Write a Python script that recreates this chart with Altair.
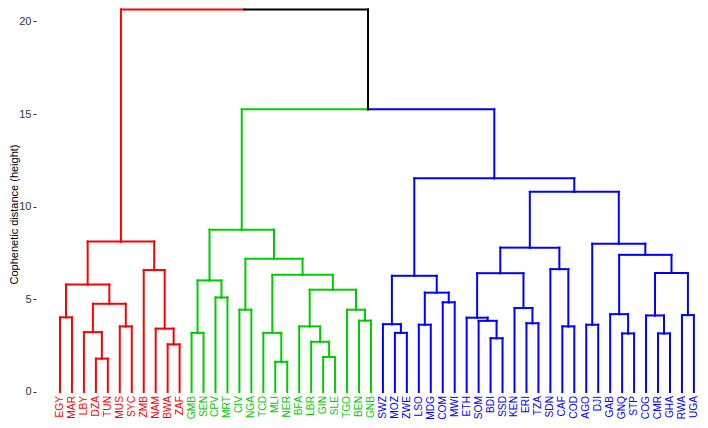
import altair as alt
import pandas as pd

# Leaves in dendrogram order
leaves = ["EGY", "MAR", "LBY", "DZA", "TUN", "MUS", "SYC", "ZMB", "NAM", "BWA", "ZAF",
          "GMB", "SEN", "CPV", "MRT", "CIV", "NGA", "TCD", "MLI", "NER", "BFA", "LBR",
          "GIN", "SLE", "TGO", "BEN", "GNB",
          "SWZ", "MOZ", "ZWE", "LSO", "MDG", "COM", "MWI", "ETH", "SOM", "BDI", "SSD",
          "KEN", "ERI", "TZA", "SDN", "CAF", "COD", "AGO", "DJI", "GAB", "GNQ", "STP",
          "COG", "CMR", "GHA", "RWA", "UGA"]

cluster_names = ["red", "green", "blue"]
cluster_sizes = [11, 16, 27]
cluster_colors = ["#FF0000", "#00CD00", "#0000FF"]

# Merges (m1..m53): left child, right child, height
merge_left = ["DZA", "LBY", "MUS", "m2", "EGY", "m5", "BWA", "NAM", "ZMB", "m6",
              "GMB", "CPV", "m11", "CIV", "MLI", "TCD", "GIN", "LBR", "BFA", "BEN",
              "TGO", "m19", "m16", "m14", "m13",
              "MOZ", "SWZ", "LSO", "COM", "m28", "m27", "BDI", "SOM", "ETH", "ERI",
              "KEN", "m34", "CAF", "SDN", "m37", "AGO", "GNQ", "GAB", "CMR", "COG",
              "RWA", "m45", "m43", "m41", "m40", "m31", "m25", "m10"]
merge_right = ["TUN", "m1", "SYC", "m3", "MAR", "m4", "ZAF", "m7", "m8", "m9",
               "SEN", "MRT", "m12", "NGA", "NER", "m15", "SLE", "m17", "m18", "GNB",
               "m20", "m21", "m22", "m23", "m24",
               "ZWE", "m26", "MDG", "MWI", "m29", "m30", "SSD", "m32", "m33", "TZA",
               "m35", "m36", "COD", "m38", "m39", "DJI", "STP", "m42", "GHA", "m44",
               "UGA", "m46", "m47", "m48", "m49", "m50", "m51", "m52"]
merge_height = [1.80, 3.23, 3.54, 4.76, 4.03, 5.80, 2.57, 3.42, 6.58, 8.12,
                3.19, 5.10, 6.02, 4.44, 1.63, 3.19, 1.89, 2.71, 3.54, 3.85,
                4.44, 5.52, 6.32, 7.19, 8.76,
                3.19, 3.66, 3.63, 4.84, 5.36, 6.27, 2.90, 3.84, 4.01, 3.71,
                4.53, 6.41, 3.54, 6.63, 7.79, 3.63, 3.16, 4.20, 3.16, 4.13,
                4.15, 6.42, 7.40, 8.00, 10.80, 11.53, 15.25, 20.64]

# ---- build tree geometry
leaf_cluster = []
for name, size in zip(cluster_names, cluster_sizes):
    leaf_cluster += [name] * size

nodes = {}
for i, lf in enumerate(leaves):
    nodes[lf] = (float(i), 0.0, leaf_cluster[i])

segs = []
for k, (l, r, h) in enumerate(zip(merge_left, merge_right, merge_height)):
    xl, hl, cl = nodes[l]
    xr, hr, cr = nodes[r]
    xm = (xl + xr) / 2
    cm = cl if cl == cr else "none"
    nodes["m%d" % (k + 1)] = (xm, h, cm)
    for (xc, hc, cc) in [(xl, hl, cl), (xr, hr, cr)]:
        segs.append({"x": xm, "x2": xc, "y": h, "y2": h, "grp": cc})
        segs.append({"x": xc, "x2": xc, "y": h, "y2": hc, "grp": cc})

seg_df = pd.DataFrame(segs)
lab_df = pd.DataFrame({"x": list(range(len(leaves))), "label": leaves, "grp": leaf_cluster})

color_scale = alt.Scale(domain=cluster_names + ["none"], range=cluster_colors + ["#000000"])
xs = alt.Scale(domain=[-2.007, 53.51], nice=False, zero=False)
ys = alt.Scale(domain=[-1.511, 20.72], nice=False, zero=False)

lines = alt.Chart(seg_df).mark_rule(strokeWidth=2, strokeCap="square").encode(
    x=alt.X("x:Q", scale=xs, axis=None),
    x2="x2",
    y=alt.Y("y:Q", scale=ys,
            axis=alt.Axis(values=[0, 5, 10, 15, 20], title="Cophenetic distance (height)",
                          domain=False, grid=False, tickSize=3, tickColor="#333333",
                          labelColor="#333333", labelFontSize=11, labelPadding=2,
                          labelFont="Liberation Sans", titleFont="Liberation Sans",
                          titleFontSize=11, titleFontWeight="normal", titleColor="#000000",
                          titleX=-22, titleBaseline="middle")),
    y2="y2",
    color=alt.Color("grp:N", scale=color_scale, legend=None),
)

labels = alt.Chart(lab_df).mark_text(angle=270, align="right", baseline="middle",
                                     fontSize=10.2, font="Liberation Sans").encode(
    x=alt.X("x:Q", scale=xs, axis=None),
    y=alt.datum(-0.216),
    text="label:N",
    color=alt.Color("grp:N", scale=color_scale, legend=None),
)

chart = alt.layer(lines, labels).properties(
    width=664, height=412, autosize="none",
    padding={"left": 28, "top": 0, "right": 0, "bottom": 0},
).configure_view(stroke=None)

chart.save("out.html", embed_options={"renderer": "svg", "actions": False})
